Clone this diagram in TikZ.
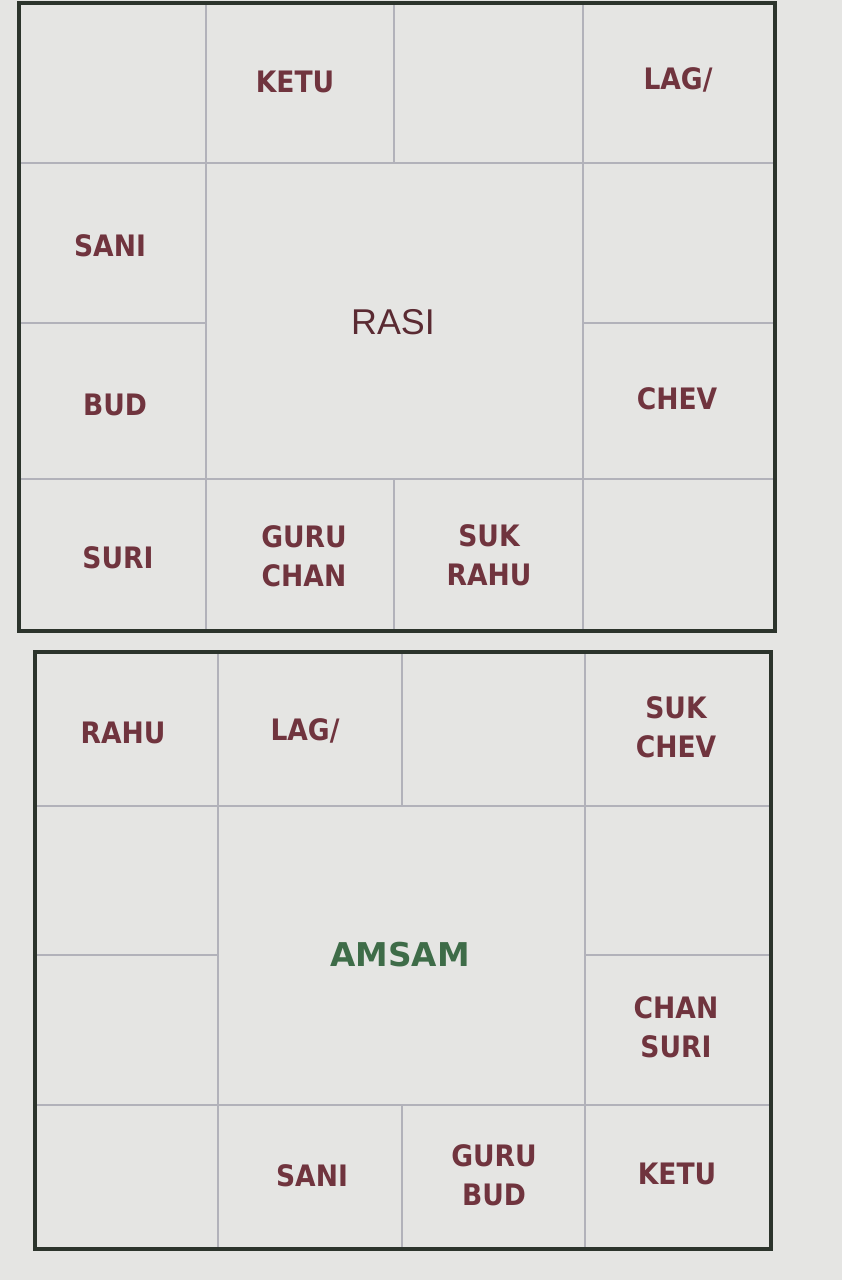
\documentclass[tikz,border=0pt]{standalone}
\usepackage{fontspec}
\usepackage{xcolor}
\usepackage{tikz}
\newfontfamily\labelfont{DejaVu Sans Condensed}
\newfontfamily\titlefont{Liberation Sans}
\newfontfamily\amsamfont{DejaVu Sans}
\definecolor{xscreen}{RGB}{229,229,227}
\definecolor{xgrid}{RGB}{178,178,186}
\definecolor{xframe}{RGB}{44,52,44}
\definecolor{xmaroon}{RGB}{112,52,62}
\definecolor{xgreen}{RGB}{62,108,72}

\begin{document}
\begin{tikzpicture}[x=0.025cm, y=-0.025cm,
  grid/.style={draw=xgrid, line width=0.9pt},
  frame/.style={draw=xframe, line width=2.2pt},
  planet/.style={font=\labelfont\bfseries\fontsize{21}{27.7}\selectfont,
                 text=xmaroon, align=center, inner sep=0pt},
  rasi/.style={font=\titlefont\fontsize{25.5}{30}\selectfont, text=xmaroon!80!black, inner sep=0pt},
  amsam/.style={font=\amsamfont\bfseries\fontsize{23.3}{28}\selectfont, text=xgreen, inner sep=0pt}
]
  \fill[xscreen] (0,0) rectangle (842,1280);
  \useasboundingbox (0,0) rectangle (842,1280);

  % rasi chart
  \draw[grid] (206,3) -- (206,631);
  \draw[grid] (583,3) -- (583,631);
  \draw[grid] (394,3) -- (394,163);
  \draw[grid] (394,479) -- (394,631);
  \draw[grid] (19,163) -- (775,163);
  \draw[grid] (19,479) -- (775,479);
  \draw[grid] (19,323) -- (206,323);
  \draw[grid] (583,323) -- (775,323);
  \draw[frame] (19,3) rectangle (775,631);

  \node[planet] (r-ketu)  at (295,82)  {KETU};
  \node[planet] (r-lag)   at (678,80)  {LAG/};
  \node[planet] (r-sani)  at (110,246) {SANI};
  \node[rasi]   (r-title) at (393,322) {RASI};
  \node[planet] (r-bud)   at (115,405) {BUD};
  \node[planet] (r-chev)  at (677,399) {CHEV};
  \node[planet] (r-suri)  at (118,558) {SURI};
  \node[planet] (r-guru)  at (304,556) {GURU\\CHAN};
  \node[planet] (r-suk)   at (489,555) {SUK\\RAHU};

  % amsam chart
  \draw[grid] (218,652) -- (218,1249);
  \draw[grid] (585,652) -- (585,1249);
  \draw[grid] (402,652) -- (402,806);
  \draw[grid] (402,1105) -- (402,1249);
  \draw[grid] (35,806) -- (771,806);
  \draw[grid] (35,1105) -- (771,1105);
  \draw[grid] (35,955) -- (218,955);
  \draw[grid] (585,955) -- (771,955);
  \draw[frame] (35,652) rectangle (771,1249);

  \node[planet] (a-rahu)  at (123,733)  {RAHU};
  \node[planet] (a-lag)   at (305,731)  {LAG/};
  \node[planet] (a-suk)   at (676,727)  {SUK\\CHEV};
  \node[amsam]  (a-title) at (400,955)  {AMSAM};
  \node[planet] (a-chan)  at (676,1027) {CHAN\\SURI};
  \node[planet] (a-sani)  at (312,1176) {SANI};
  \node[planet] (a-guru)  at (494,1175) {GURU\\BUD};
  \node[planet] (a-ketu)  at (677,1174) {KETU};
\end{tikzpicture}
\end{document}
